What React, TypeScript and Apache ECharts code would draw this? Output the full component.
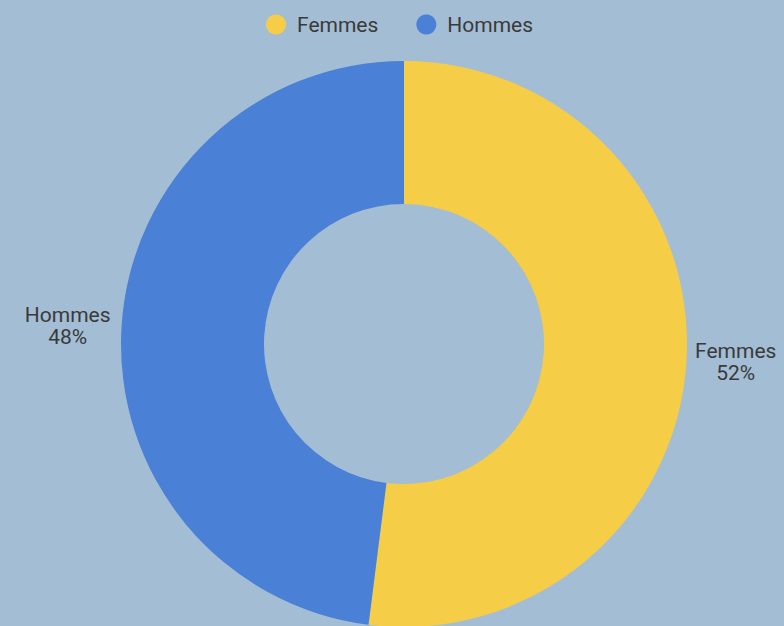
import React, { useEffect, useRef } from "react";
import * as echarts from "echarts";

const categories = ["Femmes", "Hommes"];
const values = [52, 48];
const colors = ["#f6cd46", "#4a80d6"];

export default function App() {
  const ref = useRef<HTMLDivElement>(null);
  useEffect(() => {
    document.body.style.margin = "0";
    document.body.style.background = "#a3bdd4";
    const chart = echarts.init(ref.current!, null, { renderer: "svg" });
    chart.setOption({
      animation: false,
      backgroundColor: "#a3bdd4",
      textStyle: { fontFamily: "Roboto" },
      legend: {
        data: categories,
        top: 9,
        left: 261,
        icon: "circle",
        itemWidth: 20,
        itemHeight: 20,
        itemGap: 38,
        textStyle: { fontSize: 21, color: "#3a3a3a", fontFamily: "Roboto", padding: [0, 0, 0, 6] },
      },
      series: [
        {
          type: "pie",
          center: [404, 344],
          radius: [140, 283],
          startAngle: 90,
          clockwise: true,
          data: categories.map((c, i) => ({ name: c, value: values[i], itemStyle: { color: colors[i] } })),
          label: {
            show: true,
            position: "outside",
            formatter: "{n|{b}}\n{n|{d}%}",
            color: "#3a3a3a",
            overflow: "none",
            edgeDistance: 0,
            rich: {
              n: { fontSize: 21, lineHeight: 22, align: "center", color: "#3a3a3a", fontFamily: "Roboto" },
            },
          },
          labelLine: { show: false, length: 6, length2: 0 },
          emphasis: { disabled: true },
        },
      ],
    });
    return () => chart.dispose();
  }, []);
  return <div ref={ref} style={{ width: 784, height: 626, background: "#a3bdd4" }} />;
}
